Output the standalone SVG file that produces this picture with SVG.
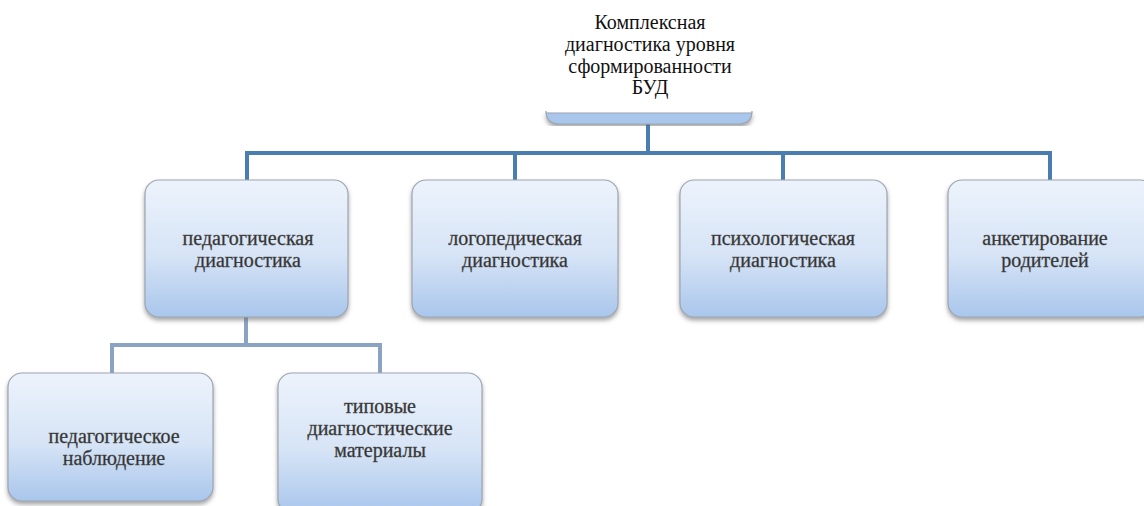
<svg xmlns="http://www.w3.org/2000/svg" width="1144" height="506" viewBox="0 0 1144 506">
<style>
.box{fill:url(#g);stroke:#9ea6b2;stroke-width:1.2;filter:url(#sh)}
.t{fill:#2e2e2e;stroke:#555;stroke-width:0.35}
.title{fill:#111}
.c1{fill:none;stroke:#4a7db0;stroke-width:4}
.c2{fill:none;stroke:#8aa3c2;stroke-width:4}
</style>
<defs>
<linearGradient id="g" x1="0" y1="0" x2="0" y2="1">
<stop offset="0" stop-color="#edf3fc"/>
<stop offset="0.55" stop-color="#d6e4f6"/>
<stop offset="1" stop-color="#a9c6ec"/>
</linearGradient>
<filter id="sh" x="-10%" y="-10%" width="120%" height="125%">
<feGaussianBlur in="SourceAlpha" stdDeviation="2"/>
<feOffset dy="3" result="b"/>
<feFlood flood-color="#6b6b6b" flood-opacity="0.6"/>
<feComposite in2="b" operator="in"/>
<feMerge><feMergeNode/><feMergeNode in="SourceGraphic"/></feMerge>
</filter>
</defs>
<rect width="1144" height="506" fill="#fff"/>
<g id="connectors">
<path class="c1" d="M648 123V153M247 153H1050M247 151V181M515 151V181M783 151V181M1050 151V181"/>
<path class="c2" d="M246 317V345M112 345H380M112 343V373M380 343V373"/>
</g>
<g font-family="Liberation Serif, Tinos, Times New Roman, DejaVu Serif, serif" font-size="20" text-anchor="middle">
<g id="root">
<path d="M546 113H752V111Q752 124 738 124H560Q546 124 546 111Z" fill="#a9c6ec" stroke="#9ea6b2" stroke-width="1.2" filter="url(#sh)"/>
<text class="title" x="650" y="29">Комплексная</text>
<text class="title" x="650" y="51">диагностика уровня</text>
<text class="title" x="650" y="73">сформированности</text>
<text class="title" x="650" y="94">БУД</text>
</g>
<g id="n1">
<rect class="box" x="145" y="180" width="203" height="137" rx="14"/>
<text class="t" x="248" y="245">педагогическая</text>
<text class="t" x="248" y="267">диагностика</text>
</g>
<g id="n2">
<rect class="box" x="412" y="180" width="206" height="137" rx="14"/>
<text class="t" x="515" y="245">логопедическая</text>
<text class="t" x="515" y="267">диагностика</text>
</g>
<g id="n3">
<rect class="box" x="680" y="180" width="207" height="137" rx="14"/>
<text class="t" x="783" y="245">психологическая</text>
<text class="t" x="783" y="267">диагностика</text>
</g>
<g id="n4">
<rect class="box" x="948" y="180" width="206" height="137" rx="14"/>
<text class="t" x="1045" y="245">анкетирование</text>
<text class="t" x="1045" y="267">родителей</text>
</g>
<g id="n5">
<rect class="box" x="8" y="373" width="205" height="128" rx="14"/>
<text class="t" x="114" y="443">педагогическое</text>
<text class="t" x="114" y="465">наблюдение</text>
</g>
<g id="n6">
<rect class="box" x="278" y="373" width="204" height="140" rx="14"/>
<text class="t" x="380" y="413">типовые</text>
<text class="t" x="380" y="435">диагностические</text>
<text class="t" x="380" y="457">материалы</text>
</g>
</g>
</svg>
